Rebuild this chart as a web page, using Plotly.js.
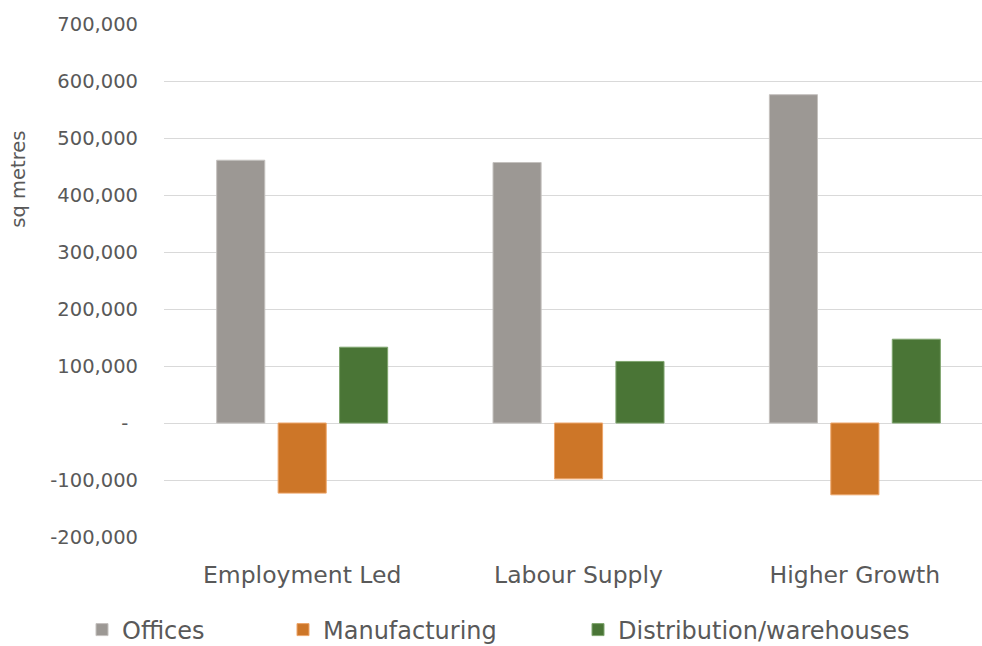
<!DOCTYPE html>
<html>
<head>
<meta charset="utf-8">
<script src="https://cdn.plot.ly/plotly-3.0.1.min.js"></script>
<style>html,body{margin:0;padding:0;background:#fff;}#chart{width:982px;height:646px;}</style>
</head>
<body>
<div id="chart"></div>
<script>
const categories = ["Employment Led", "Labour Supply", "Higher Growth"];
const seriesNames = ["Offices", "Manufacturing", "Distribution/warehouses"];
const offices = [461000, 457000, 576000];
const manufacturing = [-123000, -98000, -126000];
const distribution = [133000, 108000, 147000];
const tickValues = [700000, 600000, 500000, 400000, 300000, 200000, 100000, 0, -100000, -200000];
const tickLabels = ["700,000", "600,000", "500,000", "400,000", "300,000", "200,000", "100,000", "-\u2002", "-100,000", "-200,000"];
const yTitle = "sq metres";

const colors = ["#9C9894", "#CD7628", "#4A7536"];
const outlines = ["#C4C1BE", "#EDA56A", "#7FA56E"];
const seriesValues = [offices, manufacturing, distribution];
const legendIds = ["legend", "legend2", "legend3"];

const traces = seriesValues.map((vals, i) => ({
  type: "bar",
  name: seriesNames[i],
  x: categories,
  y: vals,
  marker: {color: colors[i], line: {color: outlines[i], width: 1}},
  legend: legendIds[i],
  hoverinfo: "none"
}));

const font = {family: "DejaVu Sans, sans-serif", color: "#595959"};
function legendAt(px) {
  return {
    orientation: "h",
    xref: "container", yref: "container",
    x: px / 982, y: 1 - 630 / 646,
    xanchor: "left", yanchor: "middle",
    font: {family: font.family, color: "#595959", size: 24},
    bgcolor: "rgba(0,0,0,0)",
    itemwidth: 30
  };
}

const layout = {
  width: 982, height: 646,
  margin: {l: 164, r: 0, t: 24, b: 109},
  paper_bgcolor: "#ffffff",
  plot_bgcolor: "#ffffff",
  barmode: "group",
  bargap: 0.333,
  bargroupgap: 0.217,
  showlegend: true,
  legend: legendAt(82),
  legend2: legendAt(283),
  legend3: legendAt(578),
  xaxis: {
    type: "category",
    range: [-0.5, 2.46],
    showgrid: false, zeroline: false, showline: false,
    ticks: "",
    tickfont: {family: font.family, color: "#595959", size: 23.5},
    ticklabelstandoff: 21,
    fixedrange: true
  },
  yaxis: {
    range: [-200000, 700000],
    tickvals: tickValues,
    ticktext: tickLabels,
    showgrid: true, gridcolor: "#D9D9D9", gridwidth: 1,
    zeroline: true, zerolinecolor: "#D9D9D9", zerolinewidth: 1,
    showline: false, ticks: "",
    tickfont: {family: font.family, color: "#595959", size: 19.5},
    ticklabelstandoff: 25,
    fixedrange: true
  },
  annotations: [{
    text: yTitle,
    xref: "paper", yref: "paper",
    x: (19 - 164) / 818, y: (537.3 - 180) / 513,
    xanchor: "center", yanchor: "middle",
    textangle: -90, showarrow: false,
    font: {family: font.family, color: "#595959", size: 19.5}
  }]
};

Plotly.newPlot("chart", traces, layout, {displayModeBar: false, staticPlot: true});
</script>
</body>
</html>
